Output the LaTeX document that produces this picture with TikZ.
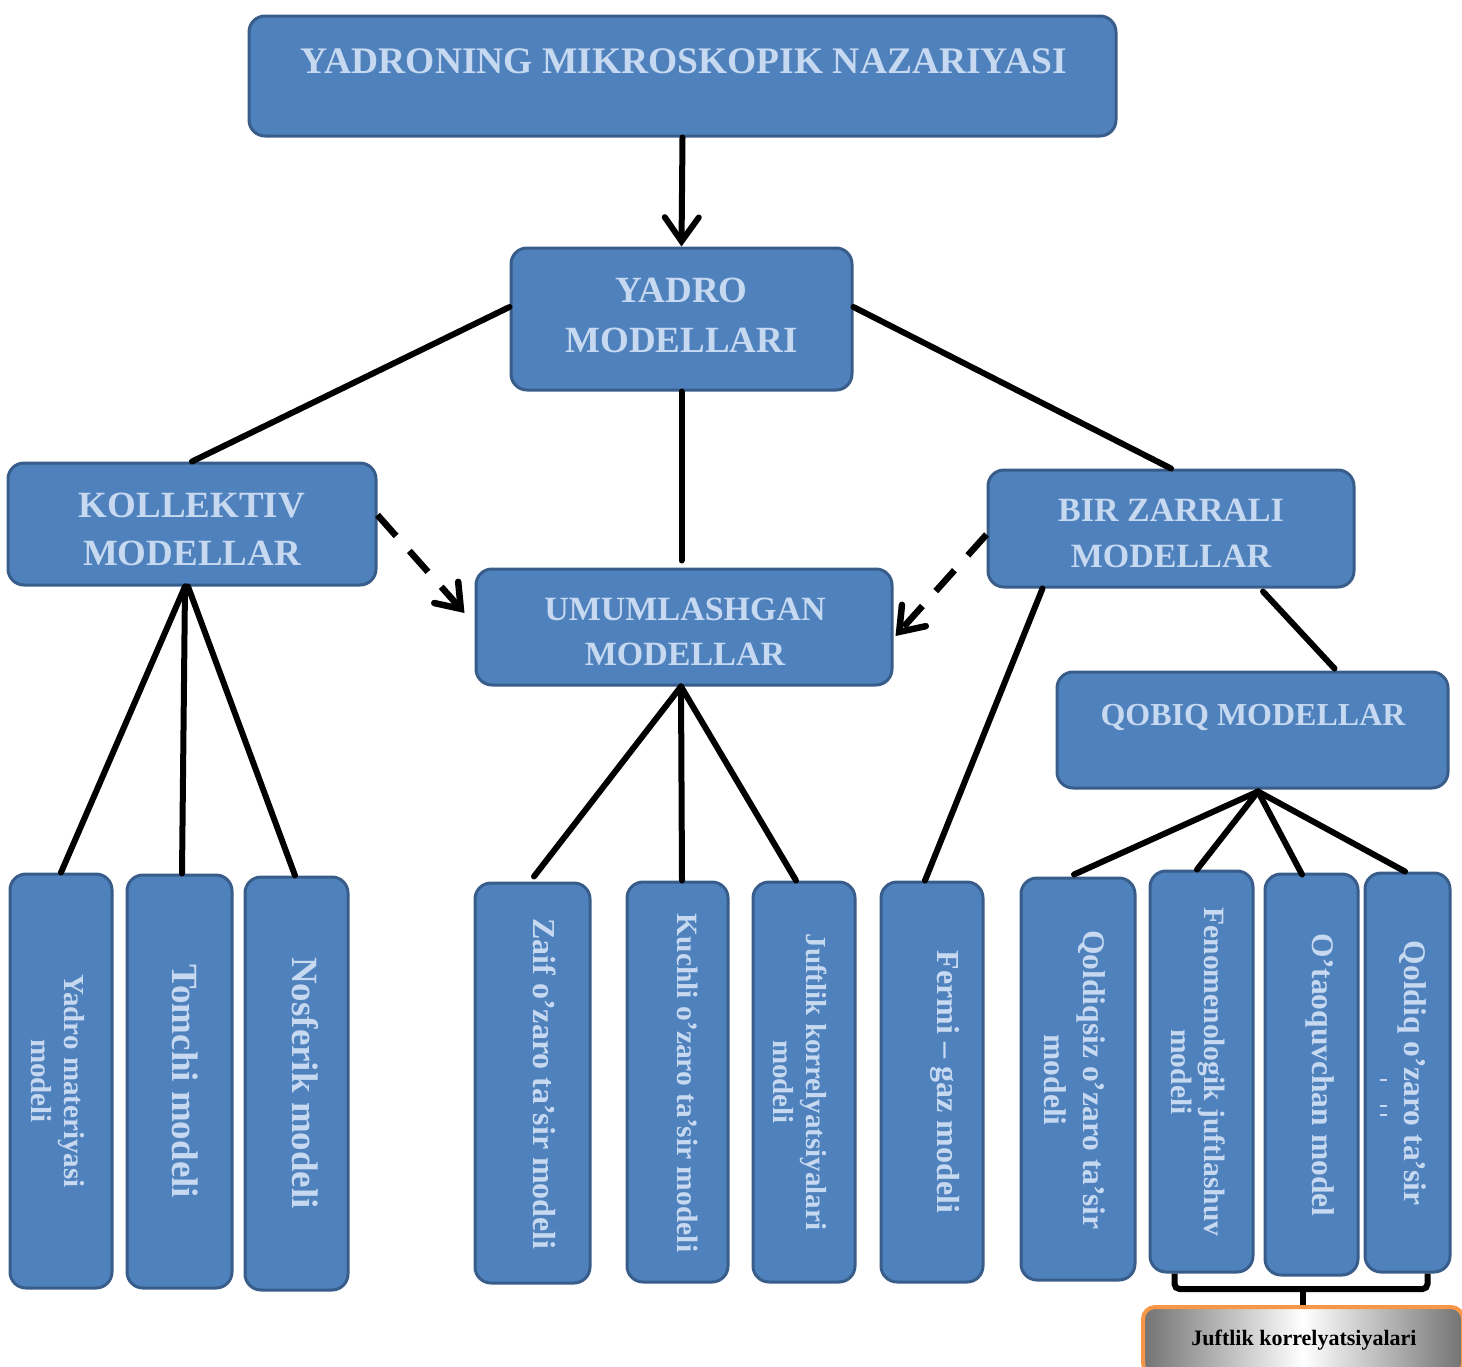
\documentclass[tikz,border=0pt]{standalone}
\usepackage{fontspec}
\setmainfont{Liberation Serif}
\usetikzlibrary{arrows.meta}
\definecolor{boxfill}{RGB}{79,129,189}
\definecolor{boxedge}{RGB}{56,93,138}
\definecolor{txtc}{RGB}{198,217,241}
\definecolor{orng}{RGB}{247,150,70}
\newcommand{\fs}[1]{\fontsize{#1}{#1}\selectfont}
\tikzset{
  bx/.style={draw=boxedge, fill=boxfill, line width=3pt, rounded corners=16pt, inner sep=0pt},
  tx/.style={text=txtc, font=\bfseries, align=center, inner sep=0pt},
  vt/.style={tx, rotate=-90},
  conn/.style={line width=6pt, black, line cap=round},
  dconn/.style={line width=6.5pt, black, dash pattern=on 28pt off 20pt, -{Straight Barb[length=22pt,width=32pt,line cap=round]}},
}
\begin{document}
\begin{tikzpicture}[x=1pt,y=-1pt]
\useasboundingbox (0,0) rectangle (1462,1366);
% main boxes
\node[bx, minimum width=867pt, minimum height=120pt] (top) at (682.5,76) {};
\node[tx, font=\bfseries\fs{37.5}] (ttop) at (684,61) {YADRONING MIKROSKOPIK NAZARIYASI};
\node[bx, minimum width=341pt, minimum height=142pt] (yad) at (681.5,319) {};
\node[tx, font=\bfseries\fs{37}, text depth=0pt] (tyad) at (681.5,315) {YADRO\\[13pt]MODELLARI};
\node[bx, minimum width=368pt, minimum height=122pt] (kol) at (192,524) {};
\node[tx, font=\bfseries\fs{37}] (tkol) at (192,529) {KOLLEKTIV\\[11pt]MODELLAR};
\node[bx, minimum width=366pt, minimum height=117pt] (bir) at (1171,528.5) {};
\node[tx, font=\bfseries\fs{34}] (tbir) at (1171,533) {BIR ZARRALI\\[12pt]MODELLAR};
\node[bx, minimum width=416pt, minimum height=116pt] (umu) at (684,627) {};
\node[tx, font=\bfseries\fs{34}] (tumu) at (685,632) {UMUMLASHGAN\\[11pt]MODELLAR};
\node[bx, minimum width=391pt, minimum height=116pt] (qob) at (1252.5,730) {};
\node[tx, font=\bfseries\fs{32}] (tqob) at (1253,717) {QOBIQ MODELLAR};
% vertical boxes
\node[bx, minimum width=102pt, minimum height=414pt] (v1) at (61,1081) {};
\node[vt, font=\bfseries\fs{29}] (t1) at (58,1081) {Yadro materiyasi\\[4pt]modeli};
\node[bx, minimum width=105pt, minimum height=413pt] (v2) at (179.5,1081.5) {};
\node[vt, font=\bfseries\fs{37}] (t2) at (185,1081) {Tomchi modeli};
\node[bx, minimum width=103pt, minimum height=413pt] (v3) at (296.5,1083.5) {};
\node[vt, font=\bfseries\fs{37}] (t3) at (305,1083) {Nosferik modeli};
\node[bx, minimum width=115pt, minimum height=400pt] (v4) at (532.5,1083) {};
\node[vt, font=\bfseries\fs{32}] (t4) at (545,1084) {Zaif o’zaro ta’sir modeli};
\node[bx, minimum width=101pt, minimum height=400pt] (v5) at (677.5,1082) {};
\node[vt, font=\bfseries\fs{29.5}] (t5) at (688,1083) {Kuchli o’zaro ta’sir modeli};
\node[bx, minimum width=102pt, minimum height=400pt] (v6) at (804,1082) {};
\node[vt, font=\bfseries\fs{29}] (t6) at (800,1082) {Juftlik korrelyatsiyalari\\[4pt]modeli};
\node[bx, minimum width=102pt, minimum height=400pt] (v7) at (932,1082) {};
\node[vt, font=\bfseries\fs{32}] (t7) at (945,1082) {Fermi – gaz modeli};
\node[bx, minimum width=114pt, minimum height=402pt] (v8) at (1078,1079) {};
\node[vt, font=\bfseries\fs{31.5}] (t8) at (1075,1080) {Qoldiqsiz o’zaro ta’sir\\[8pt]modeli};
\node[bx, minimum width=103pt, minimum height=401pt] (v9) at (1201.5,1071.5) {};
\node[vt, font=\bfseries\fs{29.5}] (t9) at (1198,1072) {Fenomenologik juftlashuv\\[4pt]modeli};
\node[bx, minimum width=93pt, minimum height=401pt] (v10) at (1311.5,1074.5) {};
\node[vt, font=\bfseries\fs{31.5}] (t10) at (1320,1075) {O’taoquvchan model};
\node[bx, minimum width=85pt, minimum height=399pt] (v11) at (1407.5,1072.5) {};
\node[vt, font=\bfseries\fs{31.5}] (t11) at (1412,1073) {Qoldiq o’zaro ta’sir};
\draw[txtc, line width=1.5pt] (1380,1080) -- (1387,1080) (1380,1106) -- (1387,1106) (1380,1115) -- (1387,1115);
% bottom right box
\node[draw=orng, line width=4pt, rounded corners=12pt, left color=gray!110, right color=gray!110, middle color=white, minimum width=320pt, minimum height=68pt, inner sep=0pt] (jk) at (1303,1341) {};
\node[font=\bfseries\fs{22}, text=black, inner sep=0pt] (tjk) at (1304,1340) {Juftlik korrelyatsiyalari};
% connectors
\draw[conn, -{Straight Barb[length=24pt,width=34pt,line cap=round]}] (top.south) -- (yad.north);
\draw[conn] ([yshift=12pt]yad.west) -- (kol.north);
\draw[conn] ([yshift=12pt]yad.east) -- (bir.north);
\draw[conn] (yad.south) -- ([yshift=7pt]yad.south |- umu.north);
\draw[dconn] ([yshift=9pt]kol.east) -- ([xshift=-10pt,yshift=14pt]umu.west);
\draw[dconn] ([yshift=-6pt]bir.west) -- ([xshift=2pt,yshift=-9pt]umu.east);
\draw[conn] ([xshift=-7pt]kol.south) -- (v1.north);
\draw[conn] ([xshift=-7pt]kol.south) -- ([xshift=2.5pt]v2.north);
\draw[conn] ([xshift=-4pt]kol.south) -- ([xshift=-1.5pt]v3.north);
\draw[conn] ([xshift=-3pt]umu.south) -- ([xshift=1.5pt,yshift=5pt]v4.north);
\draw[conn] ([xshift=-3pt]umu.south) -- ([xshift=4.5pt]v5.north);
\draw[conn] ([xshift=-3pt]umu.south) -- ([xshift=-8pt]v6.north);
\draw[conn] ([xshift=56pt]bir.south west) -- ([xshift=-7pt]v7.north);
\draw[conn] ([xshift=92pt,yshift=-3pt]bir.south) -- ([xshift=82pt,yshift=2pt]qob.north);
\draw[conn] ([xshift=5.5pt,yshift=-2pt]qob.south) -- ([xshift=-4pt,yshift=2pt]v8.north);
\draw[conn] ([xshift=5.5pt,yshift=-2pt]qob.south) -- ([xshift=-4.5pt]v9.north);
\draw[conn] ([xshift=5.5pt,yshift=-2pt]qob.south) -- ([xshift=-9.5pt,yshift=-2pt]v10.north);
\draw[conn] ([xshift=5.5pt,yshift=-2pt]qob.south) -- ([xshift=-2.5pt]v11.north);
% bracket
\coordinate (brm) at (1303,1289);
\draw[line width=6pt, black, rounded corners=5pt] ([xshift=-27pt]v9.south) -- ([xshift=-27pt]v9.south |- brm) -- ([xshift=20pt]v11.south |- brm) -- ([xshift=20pt]v11.south);
\draw[line width=6pt, black] (brm) -- (jk.north);
\end{tikzpicture}
\end{document}
